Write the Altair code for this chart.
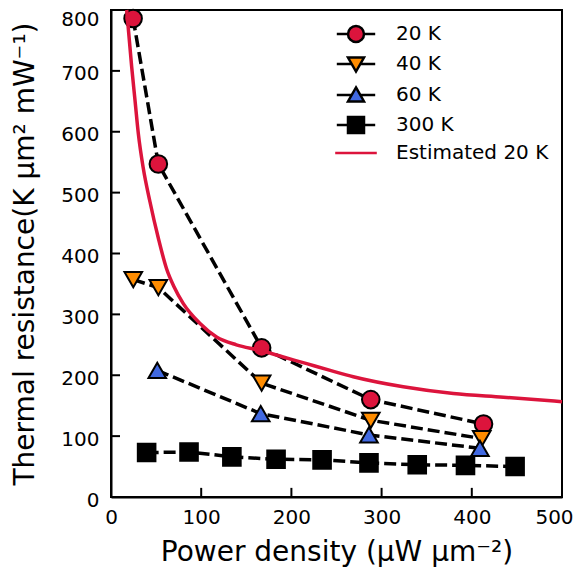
import altair as alt
import pandas as pd

# ---------------- data ----------------
series_names = ["20 K", "40 K", "60 K", "300 K"]
legend_names = ["20 K", "40 K", "60 K", "300 K", "Estimated 20 K"]

x20 = [24.5, 52.5, 167, 288, 413]
y20 = [786, 547, 245, 160, 120]
x40 = [24.7, 52.5, 167, 288, 411]
y40 = [357, 344, 187, 126, 96]
x60 = [51.3, 166, 286, 409]
y60 = [208, 137, 102, 80]
x300 = [39.5, 86.5, 134, 183, 234, 286, 339.5, 393, 448]
y300 = [73, 74, 66, 62, 61, 56, 53, 52, 50]

est_x = [17.4, 22.9, 26.6, 30.3, 35.8, 43.2, 52.5, 61.6, 70, 80, 98.7, 117,
         139, 165, 191, 217, 243, 268.6, 324, 379.6, 435, 500]
est_y = [800, 707, 652, 597, 540, 485, 425, 375, 345, 318, 285, 263,
         250, 241, 230, 219, 208, 197.5, 181, 170, 164, 156.5]

x_ticks = [0, 100, 200, 300, 400, 500]
y_ticks = [0, 100, 200, 300, 400, 500, 600, 700, 800]
x_inner_ticks = [100, 200, 300, 400]
y_inner_ticks = [100, 200, 300, 400, 500, 600, 700]

marker_shapes = ["circle", "triangle-down", "triangle-up", "square"]
marker_fills = ["#DC143C", "#FF8C00", "#4169E1", "#000000"]

# legend symbols: short solid line through the marker
legend_paths = [
    "M-2.4,0H-1M1,0H2.4M1,0A1,1,0,1,1,-1,0A1,1,0,1,1,1,0Z",
    "M-2.4,0H-0.55M0.55,0H2.4M-1,-0.8L1,-0.8L0,0.95Z",
    "M-2.4,0H-0.55M0.55,0H2.4M0,-0.95L1,0.8L-1,0.8Z",
    "M-2.4,0H-1M1,0H2.4M-1,-1H1V1H-1Z",
    "M-2.6,0H2.6",
]
legend_fills = ["#DC143C", "#FF8C00", "#4169E1", "#000000", "transparent"]
legend_strokes = ["#000000", "#000000", "#000000", "#000000", "#DC143C"]

# inward tick length, in data units of the other axis
X_TICK_LEN = 15
Y_TICK_LEN = 10

# ---------------- tables ----------------
rows = []
for name, xs, ys in [("20 K", x20, y20), ("40 K", x40, y40),
                     ("60 K", x60, y60), ("300 K", x300, y300)]:
    for i, (a, b) in enumerate(zip(xs, ys)):
        rows.append({"x": a, "y": b, "series": name, "order": i})
df = pd.DataFrame(rows)
est_df = pd.DataFrame({"x": est_x, "y": est_y, "order": range(len(est_x))})
leg_df = pd.DataFrame({"series": legend_names, "y": [0] * len(legend_names)})

tick_rows = []
for v in x_inner_ticks:
    tick_rows.append({"x": v, "y": 0, "tick": f"x{v}", "order": 0})
    tick_rows.append({"x": v, "y": X_TICK_LEN, "tick": f"x{v}", "order": 1})
for v in y_inner_ticks:
    tick_rows.append({"x": 0, "y": v, "tick": f"y{v}", "order": 0})
    tick_rows.append({"x": Y_TICK_LEN, "y": v, "tick": f"y{v}", "order": 1})
tick_df = pd.DataFrame(tick_rows)

FONT = "DejaVu Sans"
xscale = alt.Scale(domain=[0, 500], nice=False, zero=False)
yscale = alt.Scale(domain=[0, 800], nice=False, zero=False)
xaxis = alt.Axis(values=x_ticks, title="Power density (μW μm⁻²)", ticks=False,
                 tickSize=0, labelPadding=10, labelFontSize=20, titleFontSize=28,
                 titlePadding=11, grid=False, labelFont=FONT, titleFont=FONT,
                 labelFlush=False, labelOverlap=False,
                 labelOffset={"condition": {"test": "datum.value === 500", "value": -8},
                              "value": 0},
                 labelColor="black", titleColor="black", titleFontWeight="normal",
                 domainColor="black", domainWidth=2)
yaxis = alt.Axis(values=y_ticks, title="Thermal resistance(K μm² mW⁻¹)", ticks=False,
                 tickSize=0, labelPadding=12, labelFontSize=20, titleFontSize=28,
                 titlePadding=21, grid=False, labelFont=FONT, titleFont=FONT,
                 labelFlush=False, labelOverlap=False,
                 labelOffset={"condition": {"test": "datum.value === 800", "value": 9},
                              "value": 3},
                 labelColor="black", titleColor="black", titleFontWeight="normal",
                 domainColor="black", domainWidth=2)

X = alt.X("x:Q", scale=xscale, axis=xaxis)
Y = alt.Y("y:Q", scale=yscale, axis=yaxis)

ticks_layer = alt.Chart(tick_df).mark_line(color="black", strokeWidth=2).encode(
    x=X, y=Y, detail="tick:N", order="order:Q")

dashed = alt.Chart(df).mark_line(color="black", strokeWidth=3.5, strokeDash=[12, 5]).encode(
    x=X, y=Y, detail="series:N", order="order:Q")

points = alt.Chart(df).mark_point(filled=True, size=310, stroke="black",
                                  strokeWidth=2, opacity=1).encode(
    x=X, y=Y,
    shape=alt.Shape("series:N", scale=alt.Scale(domain=series_names, range=marker_shapes),
                    legend=None),
    fill=alt.Fill("series:N", scale=alt.Scale(domain=series_names, range=marker_fills),
                  legend=None),
)

estimated = alt.Chart(est_df).mark_line(color="#DC143C", strokeWidth=3.5,
                                        interpolate="monotone").encode(
    x=X, y=Y, order="order:Q")

legend_cfg = alt.Legend(title=None, orient="none", legendX=235, legendY=14,
                        symbolSize=256, symbolStrokeWidth=2.5, labelFontSize=20,
                        labelFont=FONT, labelColor="black", labelOffset=30,
                        rowPadding=5, padding=0)
legend_layer = alt.Chart(leg_df).transform_filter("datum.y > 1e9").mark_point(
    filled=True, opacity=1).encode(
    shape=alt.Shape("series:N", scale=alt.Scale(domain=legend_names, range=legend_paths),
                    legend=legend_cfg),
    fill=alt.Fill("series:N", scale=alt.Scale(domain=legend_names, range=legend_fills),
                  legend=legend_cfg),
    stroke=alt.Stroke("series:N", scale=alt.Scale(domain=legend_names, range=legend_strokes),
                      legend=legend_cfg),
)

chart = alt.layer(
    ticks_layer, dashed, points, estimated, legend_layer
).resolve_scale(
    shape="independent", fill="independent", stroke="independent"
).properties(
    width=451, height=487,
    autosize=alt.AutoSizeParams(type="none"),
    padding={"left": 103, "top": 2, "right": 13, "bottom": 74},
).configure(
    font=FONT
).configure_view(
    stroke="black", strokeWidth=2
)

chart.save("out.html", embed_options={"renderer": "svg", "actions": False})
